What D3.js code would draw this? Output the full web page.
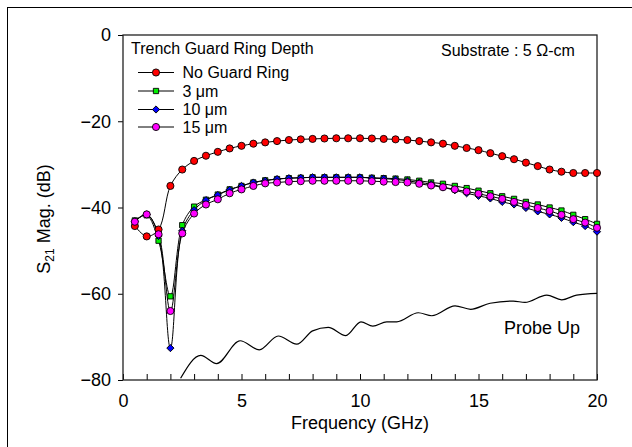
<!DOCTYPE html>
<html>
<head>
<meta charset="utf-8">
<script src="https://cdn.jsdelivr.net/npm/d3@7/dist/d3.min.js"></script>
<style>
  html, body { margin: 0; padding: 0; background: #fff; }
  svg { display: block; font-family: "Liberation Sans", Arial, sans-serif; }
</style>
</head>
<body>
<svg id="chart" width="632" height="447"></svg>
<script>
// Frequency points (GHz) of the measured S21 sweeps
const freq = [0.5,1,1.5,2,2.5,3,3.5,4,4.5,5,5.5,6,6.5,7,7.5,8,8.5,9,9.5,10,
              10.5,11,11.5,12,12.5,13,13.5,14,14.5,15,15.5,16,16.5,17,17.5,18,18.5,19,19.5,20];

// S21 magnitude (dB) for each trench guard ring depth
const noGuardRing = [-44.3,-46.7,-45.1,-35.0,-31.2,-29.2,-28.0,-27.1,-26.3,-25.7,-25.2,-24.9,-24.6,-24.35,-24.2,-24.1,-24.0,-23.95,-23.95,-23.95,
                     -24.0,-24.1,-24.2,-24.35,-24.6,-24.9,-25.2,-25.7,-26.2,-26.7,-27.4,-28.1,-28.8,-29.6,-30.4,-31.2,-31.7,-32.0,-32.0,-32.0];
const depth3um = [-43.0,-41.8,-47.7,-60.6,-44.1,-39.8,-38.2,-37.0,-35.8,-35.0,-34.2,-33.7,-33.4,-33.2,-33.1,-33.0,-33.0,-33.0,-33.0,-33.0,
                  -33.1,-33.2,-33.3,-33.5,-33.8,-34.2,-34.5,-35.0,-35.5,-36.1,-36.7,-37.4,-38.0,-38.7,-39.3,-40.0,-40.7,-41.7,-42.7,-43.8];
const depth10um = [-43.2,-41.6,-46.6,-72.6,-45.4,-40.6,-38.3,-37.1,-35.9,-35.0,-34.2,-33.8,-33.4,-33.2,-33.1,-33.0,-33.0,-33.0,-33.0,-33.0,
                   -33.2,-33.3,-33.5,-33.8,-34.2,-34.6,-35.3,-36.0,-36.7,-37.3,-37.9,-38.7,-39.3,-40.1,-40.9,-41.6,-42.4,-43.4,-44.3,-45.6];
const depth15um = [-43.3,-41.6,-46.2,-64.0,-46.0,-41.4,-39.3,-38.1,-36.7,-35.8,-35.0,-34.4,-34.2,-34.0,-33.9,-33.8,-33.8,-33.8,-33.8,-33.8,
                   -33.9,-34.0,-34.1,-34.2,-34.5,-34.9,-35.3,-35.8,-36.3,-36.8,-37.4,-38.0,-38.7,-39.4,-40.1,-40.8,-41.7,-42.7,-43.5,-44.7];

// Probe-up (isolation floor) trace
const probeFreq = [2.43,3.28,3.95,4.94,5.75,6.55,7.33,8.0,8.66,9.4,10.04,10.54,11.13,11.55,12.46,13.03,14.01,14.67,15.49,16.47,16.96,17.88,18.51,19.14,20.0];
const probeDb   = [-79.6,-74.3,-76.2,-70.9,-73.0,-69.8,-71.7,-68.6,-67.8,-69.7,-66.5,-67.5,-66.5,-66.5,-64.4,-65.1,-62.8,-63.6,-62.2,-61.7,-62.0,-60.3,-61.4,-60.3,-59.9];

const seriesNames = ["No Guard Ring", "3 \u03bcm", "10 \u03bcm", "15 \u03bcm"];
const seriesValues = [noGuardRing, depth3um, depth10um, depth15um];

const xTicks = d3.range(0, 21, 1);
const xLabels = [0, 5, 10, 15, 20];
const yTicks = [0, -20, -40, -60, -80];

// marker styles; the diamond is a square turned 45 degrees
const styles = [
  { fill: "#ff0000", shape: d3.symbolCircle, size: 40, rot: 0 },
  { fill: "#00ee00", shape: d3.symbolSquare, size: 28, rot: 0 },
  { fill: "#0000ff", shape: d3.symbolSquare, size: 26, rot: 45 },
  { fill: "#ff00ff", shape: d3.symbolCircle, size: 40, rot: 0 }
];

const svg = d3.select("#chart");
const plot = { left: 123, right: 597, top: 35, bottom: 380 };

svg.append("rect").attr("width", 632).attr("height", 447).attr("fill", "#fff");
// outer frame
svg.append("rect").attr("x", 7.5).attr("y", 7.5).attr("width", 700).attr("height", 500)
  .attr("fill", "none").attr("stroke", "#000").attr("stroke-width", 1);

const x = d3.scaleLinear().domain([0, 20]).range([plot.left, plot.right]);
const y = d3.scaleLinear().domain([-80, 0]).range([plot.bottom, plot.top]);

// x axis: inward minor ticks every 1 GHz, labels every 5 GHz
const xAxis = svg.append("g").attr("transform", `translate(0,${plot.bottom})`)
  .call(d3.axisBottom(x).tickValues(xTicks).tickSizeInner(-6).tickSizeOuter(0)
    .tickFormat(d => xLabels.includes(d) ? d : ""));
xAxis.select(".domain").remove();
xAxis.selectAll("line").attr("stroke", "#000");
xAxis.selectAll("text").attr("y", 26.5).attr("dy", 0)
  .attr("font-size", 18).attr("font-family", "Liberation Sans, Arial, sans-serif").attr("fill", "#000");

// y axis: outward ticks every 20 dB
const yAxis = svg.append("g").attr("transform", `translate(${plot.left},0)`)
  .call(d3.axisLeft(y).tickValues(yTicks).tickSizeInner(5).tickSizeOuter(0).tickPadding(7));
yAxis.select(".domain").remove();
yAxis.selectAll("line").attr("stroke", "#000");
yAxis.selectAll("text").attr("font-size", 18).attr("font-family", "Liberation Sans, Arial, sans-serif").attr("fill", "#000");

// plot box
svg.append("rect").attr("x", plot.left).attr("y", plot.top)
  .attr("width", plot.right - plot.left).attr("height", plot.bottom - plot.top)
  .attr("fill", "none").attr("stroke", "#222").attr("stroke-width", 1.3);

svg.append("clipPath").attr("id", "plotclip").append("rect")
  .attr("x", plot.left).attr("y", plot.top)
  .attr("width", plot.right - plot.left).attr("height", plot.bottom - plot.top);

// probe-up trace
const probeLine = d3.line().x((d, i) => x(probeFreq[i])).y(d => y(d)).curve(d3.curveMonotoneX);
svg.append("path").attr("d", probeLine(probeDb)).attr("fill", "none")
  .attr("stroke", "#000").attr("stroke-width", 1.2).attr("clip-path", "url(#plotclip)");

// measured series: smooth line plus markers
const line = d3.line().x((d, i) => x(freq[i])).y(d => y(d)).curve(d3.curveCatmullRom.alpha(0.5));
seriesValues.forEach(vals => {
  svg.append("path").attr("d", line(vals)).attr("fill", "none")
    .attr("stroke", "#000").attr("stroke-width", 1);
});
seriesValues.forEach((vals, k) => {
  const st = styles[k];
  svg.append("g").selectAll("path").data(vals).join("path")
    .attr("transform", (d, i) => `translate(${x(freq[i])},${y(d)}) rotate(${st.rot})`)
    .attr("d", d3.symbol().type(st.shape).size(st.size))
    .attr("fill", st.fill).attr("stroke", "#000").attr("stroke-width", 0.9);
});

// legend
const legend = svg.append("g");
legend.append("text").attr("x", 131).attr("y", 54).attr("font-size", 16).text("Trench Guard Ring Depth");
const rowY = [72.5, 91, 109.5, 127];
seriesNames.forEach((name, k) => {
  const st = styles[k];
  legend.append("line").attr("x1", 138).attr("x2", 174).attr("y1", rowY[k]).attr("y2", rowY[k])
    .attr("stroke", "#000").attr("stroke-width", 1);
  legend.append("path").attr("transform", `translate(156,${rowY[k]}) rotate(${st.rot})`)
    .attr("d", d3.symbol().type(st.shape).size(st.size))
    .attr("fill", st.fill).attr("stroke", "#000").attr("stroke-width", 0.9);
  legend.append("text").attr("x", 182.5).attr("y", rowY[k]).attr("dy", "0.35em")
    .attr("font-size", 16).text(name);
});

svg.append("text").attr("x", 441).attr("y", 55.5).attr("font-size", 16).text("Substrate : 5 \u03a9-cm");
svg.append("text").attr("x", 504).attr("y", 334).attr("font-size", 18).text("Probe Up");

// axis titles
svg.append("text").attr("x", (plot.left + plot.right) / 2).attr("y", 429)
  .attr("text-anchor", "middle").attr("font-size", 18).text("Frequency (GHz)");
const yt = svg.append("text").attr("transform", "translate(50,219) rotate(-90)")
  .attr("text-anchor", "middle").attr("font-size", 18);
yt.append("tspan").text("S");
yt.append("tspan").attr("font-size", 12).attr("dy", 4).text("21");
yt.append("tspan").attr("dy", -4).text(" Mag. (dB)");
</script>
</body>
</html>
